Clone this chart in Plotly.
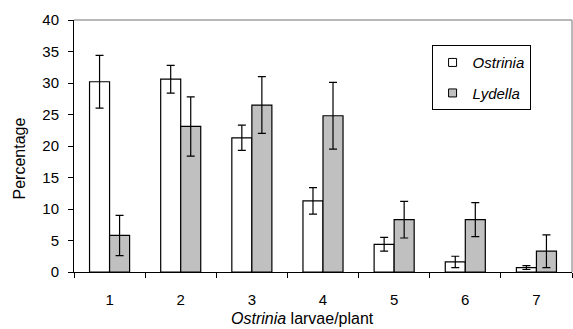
import plotly.graph_objects as go

categories = ["1", "2", "3", "4", "5", "6", "7"]
ostrinia = [30.2, 30.6, 21.3, 11.3, 4.4, 1.6, 0.7]
ostrinia_err = [4.2, 2.2, 2.0, 2.1, 1.1, 0.9, 0.3]
lydella = [5.8, 23.1, 26.5, 24.8, 8.3, 8.3, 3.3]
lydella_err = [3.2, 4.7, 4.5, 5.3, 2.9, 2.7, 2.6]

FONT = "Liberation Sans, Arial, sans-serif"
W, H = 573, 329
L, R, T, B = 74, 1, 20, 57
PW, PH = W - L - R, H - T - B

fig = go.Figure()
fig.add_trace(go.Bar(
    x=categories, y=ostrinia, name="Ostrinia", showlegend=False,
    marker=dict(color="white", line=dict(color="black", width=1.2)),
    error_y=dict(type="data", array=ostrinia_err, color="black", thickness=1.2, width=4),
))
fig.add_trace(go.Bar(
    x=categories, y=lydella, name="Lydella", showlegend=False,
    marker=dict(color="#c0c0c0", line=dict(color="black", width=1.2)),
    error_y=dict(type="data", array=lydella_err, color="black", thickness=1.2, width=4),
))
# legend proxies
fig.add_trace(go.Scatter(
    x=[None], y=[None], mode="markers", name="<i>Ostrinia</i>", legendgroup="a",
    marker=dict(symbol="square", size=8, color="white", line=dict(color="black", width=1)),
))
fig.add_trace(go.Scatter(
    x=[None], y=[None], mode="markers", name="<i>Lydella</i>", legendgroup="b",
    marker=dict(symbol="square", size=8, color="#c0c0c0", line=dict(color="black", width=1)),
))

fig.update_layout(
    width=W, height=H,
    margin=dict(l=L, r=R, t=T, b=B),
    paper_bgcolor="white", plot_bgcolor="white",
    font=dict(family=FONT, size=15, color="black"),
    barmode="group", bargap=0.437, bargroupgap=0,
    showlegend=True,
    legend=dict(
        x=0.718, y=0.9, xanchor="left", yanchor="top",
        bordercolor="black", borderwidth=1, bgcolor="white",
        font=dict(size=15), traceorder="grouped", tracegroupgap=8,
        itemwidth=30,
    ),
    xaxis=dict(
        type="category", tickson="boundaries", ticks="outside", ticklen=5,
        tickcolor="black", showline=True, linecolor="black", linewidth=1,
        showgrid=False, ticklabelstandoff=14, tickfont=dict(size=15),
    ),
    yaxis=dict(
        range=[0, 40], dtick=5, ticks="outside", ticklen=5, tickcolor="black",
        showline=True, linecolor="black", linewidth=1, showgrid=False,
        zeroline=False, ticklabelstandoff=6, tickfont=dict(size=15),
    ),
    annotations=[
        dict(text="<i>Ostrinia</i> larvae/plant", xref="paper", yref="paper",
             x=(302 - L) / PW, y=-(318 - (T + PH)) / PH, xanchor="center", yanchor="middle",
             showarrow=False, font=dict(size=16)),
        dict(text="Percentage", xref="paper", yref="paper", textangle=-90,
             x=(18.5 - L) / PW, y=1 - (159 - T) / PH, xanchor="center", yanchor="middle",
             showarrow=False, font=dict(size=16)),
    ],
    shapes=[
        dict(type="line", xref="paper", yref="paper", x0=0, x1=1, y0=1, y1=1,
             line=dict(color="#a0a0a0", width=1.5)),
        dict(type="line", xref="paper", yref="paper", x0=1, x1=1, y0=0, y1=1,
             line=dict(color="#a0a0a0", width=1.5)),
    ],
)

fig.write_html("out.html")
